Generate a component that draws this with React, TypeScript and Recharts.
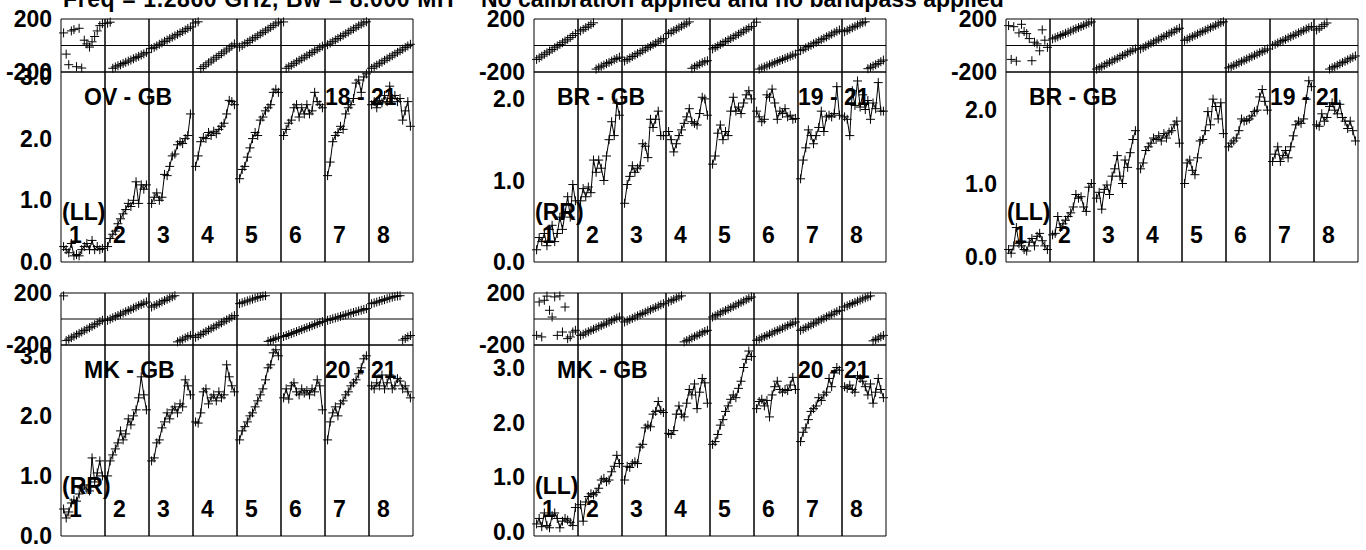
import { Line, LineChart, ReferenceLine, XAxis, YAxis } from 'recharts'

// channel numbers inside each IF, and IF labels
const channels = [1, 2, 3, 4, 5, 6, 7, 8, 9, 10, 11, 12, 13, 14, 15, 16]
const channelTicks = [5, 10, 15]
const ifNumbers = ['1', '2', '3', '4', '5', '6', '7', '8']

const baselines = ['OV - GB', 'BR - GB', 'BR - GB', 'MK - GB', 'MK - GB']
const antennaPairs = ['18 - 21', '19 - 21', '19 - 21', '20 - 21', '20 - 21']
const polarizations = ['(LL)', '(RR)', '(LL)', '(RR)', '(LL)']

const phaseLabelTicks = [-200, 200]
const ampLabelTicks = [[0, 1, 2, 3], [0, 1, 2], [0, 1, 2], [0, 1, 2, 3], [0, 1, 2, 3]]
const ampMinorTicks = [0, 0.5, 1, 1.5, 2, 2.5, 3]

const titleFreq = 'Freq = 1.2860 GHz, Bw = 8.000 MH'
const titleCal = 'No calibration applied and no bandpass applied'

// phase (deg) per IF, 16 channels each
const ovGbLlPhase = [
  [95, -65, -145, 110, 120, -160, 130, -170, 40, 12, -12, 28, 68, 110, 150, 165],
  [168, 176, -172, -162, -153, -146, -136, -127, -118, -110, -100, -91, -82, -72, -63, -52],
  [-24, -14, -3, 9, 19, 31, 41, 52, 63, 73, 84, 95, 106, 117, 129, 140],
  [170, 179, -174, -160, -146, -131, -117, -103, -89, -76, -62, -48, -34, -20, -6, 12],
  [-12, 0, 13, 24, 37, 49, 61, 74, 87, 99, 111, 124, 137, 150, 163, 176],
  [178, -172, -160, -149, -137, -124, -112, -101, -89, -77, -65, -53, -41, -29, -17, -5],
  [6, 18, 29, 42, 53, 66, 77, 89, 101, 114, 125, 137, 149, 161, 171, 179],
  [-172, -160, -148, -137, -125, -112, -100, -88, -77, -64, -52, -40, -28, -16, -4, 9],
]
const ovGbLlAmp = [
  [0.25, 0.2, 0.15, 0.3, 0.1, 0.12, 0.1, 0.2, 0.25, 0.3, 0.2, 0.35, 0.2, 0.25, 0.2, 0.22],
  [0.25, 0.38, 0.45, 0.5, 0.62, 0.7, 0.78, 0.85, 0.95, 0.9, 1.0, 1.3, 0.95, 1.25, 1.18, 1.25],
  [0.95, 1.05, 1.12, 1.0, 1.05, 1.42, 1.4, 1.55, 1.72, 1.75, 1.9, 1.95, 1.92, 2.0, 2.05, 2.4],
  [1.55, 1.72, 1.95, 2.02, 2.0, 2.1, 2.05, 2.12, 2.08, 2.15, 2.2, 2.25, 2.4, 2.62, 2.6, 2.55],
  [1.35, 1.5, 1.55, 1.7, 1.85, 2.0, 2.1, 2.05, 2.3, 2.35, 2.45, 2.5, 2.55, 2.75, 2.8, 2.75],
  [2.05, 2.15, 2.25, 2.3, 2.5, 2.55, 2.35, 2.5, 2.4, 2.55, 2.4, 2.45, 2.75, 2.6, 2.55, 2.5],
  [1.4, 1.62, 1.95, 2.05, 2.1, 2.2, 2.15, 2.4, 2.5, 2.55, 2.65, 2.9, 2.95, 2.75, 3.0, 3.05],
  [2.55, 2.6, 2.5, 2.62, 2.58, 2.7, 2.6, 2.85, 2.65, 2.7, 2.6, 2.65, 2.3, 2.45, 2.6, 2.2],
]

const brGbRrPhase = [
  [-105, -93, -80, -67, -55, -42, -30, -17, -4, 8, 21, 34, 47, 60, 75, 90],
  [110, 122, 135, 146, 158, 171, -178, -168, -157, -148, -137, -128, -118, -107, -98, -88],
  [-117, -106, -95, -83, -72, -61, -50, -39, -27, -16, -5, 7, 18, 29, 41, 52],
  [90, 101, 112, 123, 134, 146, 157, 168, 178, -172, -162, -151, -141, -131, -122, -115],
  [-26, -15, -4, 8, 19, 30, 41, 52, 63, 75, 86, 97, 109, 120, 132, 143],
  [176, -178, -170, -162, -154, -146, -138, -130, -122, -113, -105, -97, -89, -81, -73, -65],
  [-39, -29, -18, -8, 2, 13, 23, 33, 44, 54, 65, 75, 86, 96, 107, 117],
  [104, 114, 124, 134, 144, 154, 163, 172, 179, -175, -165, -155, -145, -135, -122, -110],
]
const brGbRrAmp = [
  [0.15, 0.3, 0.25, 0.35, 0.2, 0.4, 0.45, 0.25, 0.35, 0.55, 0.4, 0.6, 0.8, 0.55, 0.95, 0.75],
  [0.75, 0.9, 0.8, 0.92, 0.85, 1.25, 1.1, 1.25, 1.15, 1.0, 1.3, 1.5, 1.72, 1.55, 1.95, 1.8],
  [0.72, 0.95, 1.05, 1.18, 1.1, 1.15, 1.18, 1.45, 1.42, 1.28, 1.75, 1.65, 1.75, 1.85, 1.55, 1.55],
  [1.6, 1.5, 1.35, 1.45, 1.55, 1.62, 1.7, 1.78, 1.88, 1.72, 1.7, 1.68, 1.82, 2.02, 2.0, 1.8],
  [1.2, 1.3, 1.58, 1.68, 1.5, 1.6, 1.55, 1.85, 2.02, 1.85, 1.9, 1.82, 1.95, 2.05, 2.1, 2.0],
  [1.85, 1.78, 1.72, 1.75, 2.05, 2.02, 2.12, 1.95, 1.75, 1.85, 1.82, 1.88, 1.78, 1.8, 1.75, 1.76],
  [1.02, 1.25, 1.4, 1.62, 1.55, 1.45, 1.55, 1.65, 1.85, 1.6, 1.78, 1.8, 1.78, 1.82, 2.15, 1.8],
  [1.78, 1.75, 1.55, 2.1, 1.92, 2.22, 1.9, 2.05, 1.87, 1.98, 1.75, 1.95, 1.88, 2.2, 1.85, 1.85],
]

const brGbLlPhase = [
  [150, -105, 142, -118, 95, 160, 105, 90, 52, -115, 25, 12, -40, 118, 40, -14],
  [50, 58, 66, 75, 83, 92, 100, 109, 117, 126, 135, 143, 152, 161, 170, 178],
  [-178, -168, -158, -148, -137, -127, -117, -107, -97, -87, -76, -66, -56, -46, -36, -26],
  [-26, -16, -5, 5, 16, 26, 36, 47, 57, 68, 78, 88, 99, 109, 120, 130],
  [39, 48, 58, 67, 77, 86, 96, 105, 115, 124, 134, 143, 153, 162, 172, 179],
  [-169, -160, -150, -141, -131, -122, -112, -103, -93, -84, -74, -65, -55, -46, -36, -26],
  [0, 9, 19, 28, 38, 47, 57, 66, 76, 85, 95, 104, 114, 124, 133, 143],
  [117, 130, 144, 157, 170, -178, -168, -159, -149, -139, -129, -119, -109, -99, -89, -79],
]
const brGbLlAmp = [
  [0.1, 0.05, 0.15, 0.4, 0.18, 0.15, 0.1, 0.08, 0.2, 0.25, 0.15, 0.28, 0.32, 0.22, 0.15, 0.1],
  [0.3, 0.32, 0.55, 0.4, 0.45, 0.5, 0.55, 0.6, 0.68, 0.85, 0.8, 0.82, 0.68, 0.62, 0.95, 1.0],
  [0.8, 0.88, 0.65, 0.92, 0.98, 0.85, 1.1, 1.2, 1.38, 1.1, 1.0, 1.32, 1.22, 1.42, 1.6, 1.72],
  [1.2, 1.28, 1.45, 1.5, 1.55, 1.62, 1.6, 1.65, 1.58, 1.68, 1.62, 1.7, 1.72, 1.8, 1.85, 1.55],
  [1.0, 1.28, 1.32, 1.18, 1.12, 1.35, 1.58, 1.6, 1.72, 1.98, 1.8, 2.15, 2.05, 1.88, 2.1, 1.68],
  [1.5, 1.55, 1.58, 1.62, 1.72, 1.88, 1.85, 1.86, 1.88, 1.92, 1.98, 2.0, 2.18, 2.28, 2.12, 2.0],
  [1.3, 1.4, 1.5, 1.3, 1.38, 1.45, 1.35, 1.5, 1.65, 1.8, 1.85, 1.82, 1.88, 2.15, 2.4, 2.32],
  [1.8, 1.78, 1.95, 1.85, 1.9, 2.05, 2.1, 2.0, 1.95, 2.08, 1.9, 1.85, 1.75, 1.85, 1.72, 1.58],
]

const mkGbRrPhase = [
  [178, -166, -155, -144, -133, -122, -111, -100, -89, -78, -67, -56, -44, -33, -21, -10],
  [-10, -1, 9, 18, 27, 37, 46, 56, 65, 74, 84, 93, 103, 112, 121, 131],
  [92, 102, 112, 122, 132, 142, 152, 162, 171, 179, -176, -166, -156, -146, -136, -126],
  [-141, -130, -119, -108, -96, -85, -74, -63, -52, -41, -30, -18, -7, 4, 15, 26],
  [118, 125, 132, 139, 146, 153, 160, 166, 172, 176, 179, -172, -165, -157, -149, -140],
  [-135, -127, -120, -112, -105, -97, -89, -82, -74, -66, -59, -51, -43, -36, -28, -20],
  [-10, -4, 2, 8, 14, 20, 26, 32, 38, 44, 50, 56, 62, 68, 74, 80],
  [118, 124, 130, 137, 143, 149, 156, 162, 168, 173, 177, 179, -162, -150, -138, -127],
]
const mkGbRrAmp = [
  [0.45, 0.3, 0.4, 0.55, 0.6, 0.58, 0.7, 0.8, 0.85, 0.78, 0.75, 1.3, 0.9, 1.05, 1.25, 1.0],
  [1.0, 1.25, 1.35, 1.45, 1.55, 1.75, 1.6, 1.7, 1.95, 1.85, 2.0, 2.1, 2.3, 2.65, 2.35, 2.1],
  [1.25, 1.3, 1.55, 1.6, 1.8, 1.9, 2.05, 1.95, 2.1, 2.15, 2.05, 2.2, 2.15, 2.6, 2.5, 2.35],
  [1.9, 1.88, 2.05, 2.4, 2.45, 2.2, 2.3, 2.35, 2.25, 2.4, 2.3, 2.35, 2.85, 2.65, 2.5, 2.4],
  [1.6, 1.75, 1.82, 1.9, 2.0, 2.05, 2.15, 2.25, 2.35, 2.45, 2.6, 2.8, 2.85, 3.05, 3.1, 3.0],
  [2.3, 2.45, 2.28, 2.5, 2.55, 2.4, 2.35, 2.45, 2.38, 2.42, 2.35, 2.45, 2.4, 2.6, 2.5, 2.1],
  [1.6, 1.9, 2.05, 2.15, 2.0, 2.2, 2.25, 2.35, 2.4, 2.5, 2.55, 2.6, 2.7, 2.8, 2.95, 3.0],
  [2.5, 2.45, 2.55, 2.5, 2.68, 2.45, 2.55, 2.68, 2.45, 2.5, 2.62, 2.58, 2.45, 2.5, 2.4, 2.3],
]

const mkGbLlPhase = [
  [-126, 131, -138, 144, 176, 67, 15, 170, -126, 178, -100, 92, -151, -138, -100, -87],
  [-126, -117, -107, -98, -88, -79, -70, -60, -51, -41, -32, -23, -13, -4, 6, 15],
  [-23, -14, -4, 5, 15, 24, 34, 43, 52, 62, 71, 81, 90, 99, 109, 118],
  [131, 141, 151, 161, 170, 178, -176, -166, -156, -146, -136, -126, -116, -106, -96, -87],
  [15, 25, 35, 46, 56, 66, 76, 87, 97, 107, 117, 128, 138, 148, 158, 169],
  [-164, -155, -145, -136, -127, -117, -108, -98, -89, -80, -70, -61, -51, -42, -32, -23],
  [-87, -77, -66, -56, -46, -36, -25, -15, -5, 5, 16, 26, 36, 46, 57, 67],
  [92, 101, 110, 119, 128, 137, 146, 155, 163, 171, 178, -168, -158, -147, -137, -126],
]
const mkGbLlAmp = [
  [0.15, 0.25, 0.1, 0.35, 0.12, 0.08, 0.3, 0.35, 0.25, 0.08, 0.2, 0.25, 0.22, 0.18, 0.12, 0.45],
  [0.5, 0.2, 0.55, 0.65, 0.7, 0.68, 0.72, 0.8, 0.95, 0.98, 0.92, 0.95, 1.1, 1.2, 1.4, 1.25],
  [0.95, 1.2, 1.18, 1.25, 1.28, 1.25, 1.55, 1.6, 1.9, 1.95, 1.92, 2.15, 2.2, 2.38, 2.22, 2.18],
  [1.8, 1.78, 1.85, 2.15, 2.3, 2.15, 2.1, 2.35, 2.6, 2.5, 2.7, 2.25, 2.55, 2.8, 2.72, 2.35],
  [1.6, 1.65, 1.78, 1.95, 2.05, 2.2, 2.3, 2.42, 2.5, 2.45, 2.62, 2.75, 3.0, 3.15, 3.3, 3.2],
  [2.25, 2.38, 2.42, 2.3, 2.4, 2.1, 2.5, 2.65, 2.75, 2.6, 2.55, 2.6, 2.58, 2.68, 2.82, 2.6],
  [1.65, 1.82, 1.9, 2.05, 2.2, 2.25, 2.3, 2.45, 2.4, 2.5, 2.55, 2.8, 2.65, 2.9, 3.0, 2.95],
  [2.65, 2.62, 2.68, 2.6, 2.55, 2.85, 2.8, 2.75, 2.65, 2.5, 2.7, 2.35, 2.55, 2.8, 2.6, 2.45],
]

const phaseSets = [ovGbLlPhase, brGbRrPhase, brGbLlPhase, mkGbRrPhase, mkGbLlPhase]
const ampSets = [ovGbLlAmp, brGbRrAmp, brGbLlAmp, mkGbRrAmp, mkGbLlAmp]

// where each baseline panel sits on the page
const panelLayout = [
  { left: 61, top: 19, phaseH: 53, ampH: 190, ampDomain: [0, 3.08] },
  { left: 534, top: 19, phaseH: 53, ampH: 190, ampDomain: [0, 2.33] },
  { left: 1006, top: 19, phaseH: 53, ampH: 190, ampDomain: [-0.07, 2.52] },
  { left: 61, top: 293, phaseH: 52, ampH: 191, ampDomain: [0, 3.18] },
  { left: 534, top: 293, phaseH: 52, ampH: 191, ampDomain: [-0.07, 3.41] },
]

const IF_W = 44
const FONT = '"Liberation Sans", Arial, Helvetica, sans-serif'
const FS = 23

function plusDot(props: any) {
  const { cx, cy, index } = props
  if (cx == null || cy == null) return <g key={`p-${index}`} />
  return (
    <path
      key={`p-${index}`}
      d={`M${cx - 4.5},${cy}h9M${cx},${cy - 4.5}v9`}
      stroke="#000"
      strokeWidth={1}
      fill="none"
    />
  )
}

interface IfBoxProps {
  values: number[]
  kind: 'phase' | 'amp'
  domain: number[]
  height: number
  labelTicks?: number[]
}

function IfBox({ values, kind, domain, height, labelTicks }: IfBoxProps) {
  const rows = channels.map((ch, i) => ({ ch, v: values[i] }))
  const minor = kind === 'amp' ? ampMinorTicks.filter((t) => t >= domain[0] && t <= domain[1]) : [0]
  // the first box carries a 1px-wide label axis, so it is 1px wider and shifted left
  const labelled = !!labelTicks
  return (
    <div style={{ marginLeft: labelled ? -1 : 0 }}>
      <LineChart width={IF_W + (labelled ? 1 : 0)} height={height} data={rows}
        margin={{ top: 0, right: 0, bottom: 0, left: 0 }}>
        <XAxis xAxisId="b" dataKey="ch" type="number" domain={[0, 17]} ticks={channelTicks}
          orientation="bottom" mirror height={1} tick={false} tickSize={4} stroke="#000" />
        <XAxis xAxisId="t" dataKey="ch" type="number" domain={[0, 17]} ticks={channelTicks}
          orientation="top" mirror height={1} tick={false} tickSize={4} stroke="#000" allowDataOverflow />
        <YAxis yAxisId="l" type="number" domain={domain} ticks={minor} orientation="left" mirror
          width={1} tick={false} tickSize={kind === 'amp' ? 4 : 0} stroke="#000" />
        <YAxis yAxisId="r" type="number" domain={domain} ticks={minor} orientation="right" mirror
          width={1} tick={false} tickSize={kind === 'amp' ? 4 : 0} stroke="#000" allowDataOverflow />
        {labelled && (
          <YAxis yAxisId="lab" type="number" domain={domain} ticks={labelTicks} interval={0}
            orientation="left" width={1} tickLine={false} axisLine={false} tickSize={0} tickMargin={9}
            allowDataOverflow
            tickFormatter={(v: number) => (kind === 'amp' ? v.toFixed(1) : String(v))}
            tick={{ fontSize: FS, fontWeight: 'bold', fill: '#000', fontFamily: FONT }} />
        )}
        {kind === 'phase' && <ReferenceLine xAxisId="b" yAxisId="l" y={0} stroke="#000" strokeWidth={1} />}
        <Line
          xAxisId="b"
          yAxisId="l"
          dataKey="v"
          type="linear"
          stroke={kind === 'amp' ? '#000' : 'none'}
          strokeWidth={1}
          dot={plusDot}
          activeDot={false}
          isAnimationActive={false}
        />
      </LineChart>
    </div>
  )
}

const textStyle = {
  position: 'absolute' as const,
  fontFamily: FONT,
  fontWeight: 'bold' as const,
  fontSize: FS,
  lineHeight: `${FS}px`,
  whiteSpace: 'nowrap' as const,
  color: '#000',
}

function Panel({ idx }: { idx: number }) {
  const p = panelLayout[idx]
  const ampTop = p.top + p.phaseH
  const ampBottom = ampTop + p.ampH
  const capMid = FS * 0.49
  return (
    <>
      <div style={{ position: 'absolute', left: p.left, top: p.top, display: 'flex' }}>
        {phaseSets[idx].map((vals, i) => (
          <IfBox key={i} values={vals} kind="phase" domain={[-200, 200]} height={p.phaseH}
            labelTicks={i === 0 ? phaseLabelTicks : undefined} />
        ))}
      </div>
      <div style={{ position: 'absolute', left: p.left, top: ampTop, display: 'flex' }}>
        {ampSets[idx].map((vals, i) => (
          <IfBox key={i} values={vals} kind="amp" domain={p.ampDomain} height={p.ampH}
            labelTicks={i === 0 ? ampLabelTicks[idx] : undefined} />
        ))}
      </div>
      <div style={{ ...textStyle, left: p.left + 23, top: ampTop + 25 - capMid }}>{baselines[idx]}</div>
      <div style={{ ...textStyle, left: p.left + 264, top: ampTop + 25 - capMid }}>{antennaPairs[idx]}</div>
      <div style={{ ...textStyle, left: p.left + 1, top: ampBottom - 50 - capMid }}>{polarizations[idx]}</div>
      {ifNumbers.map((n, i) => (
        <div key={n} style={{ ...textStyle, left: p.left + i * IF_W + 8, top: ampBottom - 27 - capMid }}>{n}</div>
      ))}
    </>
  )
}

export default function App() {
  return (
    <div style={{ position: 'absolute', left: 0, top: 0, width: 1366, height: 550, background: '#fff', overflow: 'hidden', fontFamily: FONT }}>
      <style>{'svg.recharts-surface{overflow:visible}'}</style>
      <div style={{ ...textStyle, left: 63, top: 8 - FS * 0.85, letterSpacing: 0.6 }}>{titleFreq}</div>
      <div style={{ ...textStyle, left: 481, top: 8 - FS * 0.85 }}>{titleCal}</div>
      {panelLayout.map((_, i) => (
        <Panel key={i} idx={i} />
      ))}
    </div>
  )
}
